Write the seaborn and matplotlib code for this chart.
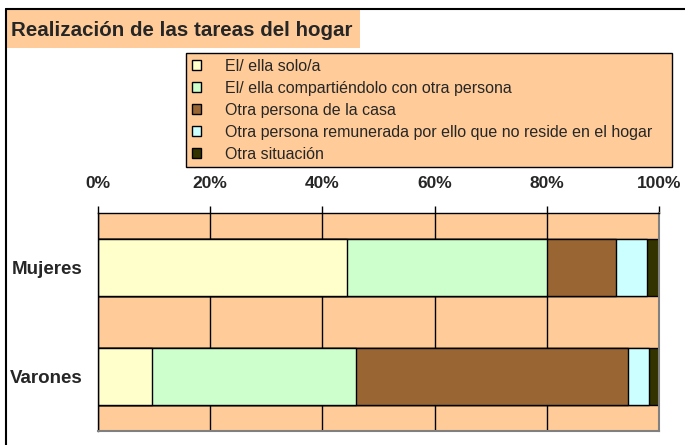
import numpy as np
import pandas as pd
import matplotlib
matplotlib.use("Agg")
import matplotlib.pyplot as plt
from matplotlib.patches import Patch, Rectangle
from matplotlib.lines import Line2D
import seaborn as sns

# data (percent of each group)
grupos = ["Mujeres", "Varones"]
situaciones = ["El/ ella solo/a",
               "El/ ella compartiéndolo con otra persona",
               "Otra persona de la casa",
               "Otra persona remunerada por ello que no reside en el hogar",
               "Otra situación"]
mujeres = [44.4, 35.6, 12.4, 5.5, 2.1]
varones = [9.7, 36.3, 48.4, 3.9, 1.7]
colores = ["#FFFFCC", "#CCFFCC", "#996633", "#CCFFFF", "#333300"]
ticks_x = [0, 20, 40, 60, 80, 100]

sns.set_style("white")
plt.rcParams['font.family'] = ['Liberation Sans', 'DejaVu Sans']

df = pd.DataFrame([mujeres, varones], index=grupos, columns=situaciones)
acum = df.cumsum(axis=1)

fig = plt.figure(figsize=(6.85, 4.45), dpi=100)
ax = fig.add_axes([98/685, 1-431/445, 561/685, 218/445])
ax.set_facecolor("#FFCC99")

# stacked bars: draw the cumulative totals from the largest down
for i in reversed(range(len(situaciones))):
    sns.barplot(x=acum.iloc[:, i].values, y=grupos, orient='h', color=colores[i],
                edgecolor='black', linewidth=1, width=0.53, saturation=1, ax=ax)

ax.set_xlim(0, 100)
ax.set_ylim(1.5, -0.5)
ax.set_xticks(ticks_x)
ax.set_xticklabels([f"{t}%" for t in ticks_x], fontsize=12.5, fontweight='bold')
ax.xaxis.tick_top()
ax.tick_params(axis='x', direction='out', length=5, width=1, color='black', pad=11)
ax.set_yticks([0, 1])
ax.set_yticklabels(grupos, fontsize=13.5, fontweight='bold')
ax.tick_params(axis='y', which='major', length=0, pad=11)
ax.set_yticks([-0.5, 0.5, 1.5], minor=True)
ax.tick_params(axis='y', which='minor', direction='out', length=5, width=1, color='black')
ax.grid(axis='x', color='black', linewidth=1)
ax.set_axisbelow(True)
ax.set_xlabel("")
ax.set_ylabel("")
for lado in ['top', 'left']:
    ax.spines[lado].set_color('black')
    ax.spines[lado].set_linewidth(1)
for lado in ['right', 'bottom']:
    ax.spines[lado].set_color('#808080')
    ax.spines[lado].set_linewidth(1.5)

# outer frame of the chart (clipped at right and bottom)
fig.add_artist(Line2D([6/685, 1], [1-9/445, 1-9/445], color='black', lw=1.5))
fig.add_artist(Line2D([6/685, 6/685], [0, 1-9/445], color='black', lw=1.5))

# title box
fig.add_artist(Rectangle((6/685, 1-48/445), 354/685, 38/445, facecolor="#FFCC99",
                         edgecolor='none', transform=fig.transFigure))
fig.text(11/685, 1-30/445, "Realización de las tareas del hogar", fontsize=14.8,
         fontweight='bold', va='center', ha='left')

handles = [Patch(facecolor=c, edgecolor='black', label=s) for c, s in zip(colores, situaciones)]
leg = fig.legend(handles=handles, loc='upper left', mode='expand',
                 bbox_to_anchor=(186/685, 1-167/445, 486/685, 114/445),
                 frameon=True, fancybox=False, shadow=False, fontsize=11.5,
                 handlelength=0.6, handleheight=0.6, handletextpad=1.5,
                 labelspacing=0.44, borderpad=0.35, borderaxespad=0)
leg.get_frame().set_facecolor("#FFCC99")
leg.get_frame().set_edgecolor('black')
leg.get_frame().set_linewidth(1)
leg.get_frame().set_alpha(1)

plt.savefig("out.png", dpi=100)
